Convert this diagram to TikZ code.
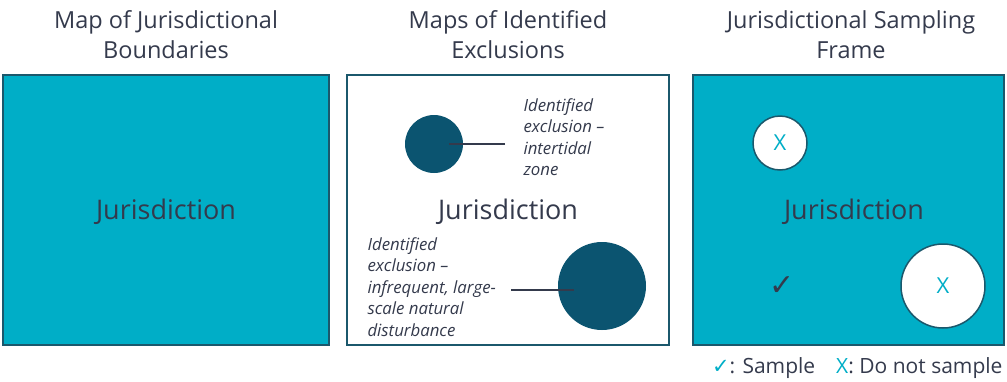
\documentclass[tikz,border=0pt]{standalone}
\usepackage{fontspec}
\usetikzlibrary{calc}
\setmainfont{Open Sans}
\newfontfamily\symfont{DejaVu Sans}
\definecolor{teal1}{RGB}{0,174,199}
\definecolor{edge1}{RGB}{27,88,108}
\definecolor{dark1}{RGB}{11,84,112}
\definecolor{txt1}{RGB}{52,58,76}
\begin{document}
\begin{tikzpicture}[x=1pt,y=-1pt,
  ttl/.style={font=\fontsize{23.5}{30}\selectfont, text=txt1, align=center},
  panel/.style={draw=edge1, line width=2pt},
  jur/.style={font=\fontsize{27}{30}\selectfont, text=txt1},
  note/.style={font=\itshape\fontsize{16.8}{21.5}\selectfont, text=txt1, align=left, anchor=west},
  excl/.style={circle, fill=dark1, inner sep=0pt},
  wcirc/.style={circle, fill=white, draw=edge1, line width=1.5pt, inner sep=0pt},
  xmk/.style={font=\fontsize{22}{24}\selectfont, text=teal1},
  lead/.style={draw=txt1, line width=2pt}]
\useasboundingbox (0,0) rectangle (1007,381);
% titles
\node[ttl] (t1) at (166,35) {Map of Jurisdictional\\Boundaries};
\node[ttl] (t2) at (508,35) {Maps of Identified\\Exclusions};
\node[ttl] (t3) at (851,35) {Jurisdictional Sampling\\Frame};
% panel 1
\path[panel, fill=teal1] (3,75) rectangle (329,345);
\node[jur] (j1) at (166,212) {Jurisdiction};
% panel 2
\path[panel, fill=white] (347,75) rectangle (669,345);
\node[jur] (j2) at (508,212) {Jurisdiction};
\node[excl, minimum size=58pt] (c1) at (434,144) {};
\node[excl, minimum size=88pt] (c2) at (602,286) {};
\coordinate (e1) at (505,144);
\coordinate (e2) at (511,290);
\draw[lead] (e1) -- (e1 -| c1.east) -- ++(-14,0);
\draw[lead] (e2) -- (e2 -| c2.west) -- ++(16,0);
\node[note] (n1) at (520,137) {Identified\\exclusion --\\intertidal\\zone};
\node[note] (n2) at (364,287) {Identified\\exclusion --\\infrequent, large-\\scale natural\\disturbance};
% panel 3
\path[panel, fill=teal1] (693,75) rectangle (1004,345);
\node[jur] (j3) at (854,212) {Jurisdiction};
\node[wcirc, minimum size=54pt] (w1) at (780,143) {};
\node[xmk] (x1) at (w1) {X};
\node[wcirc, minimum size=84pt] (w2) at (943,286) {};
\node[xmk] (x2) at (w2) {X};
\node[font=\symfont\fontsize{30}{32}\selectfont, text=txt1] (ck) at (782,286) {✓};
% legend
\node[anchor=east, font=\fontsize{21}{24}\selectfont, text=txt1] (leg) at (1006,368) {{\symfont\color{teal1}✓}: Sample\quad {\color{teal1}X}: Do not sample};
\end{tikzpicture}
\end{document}
